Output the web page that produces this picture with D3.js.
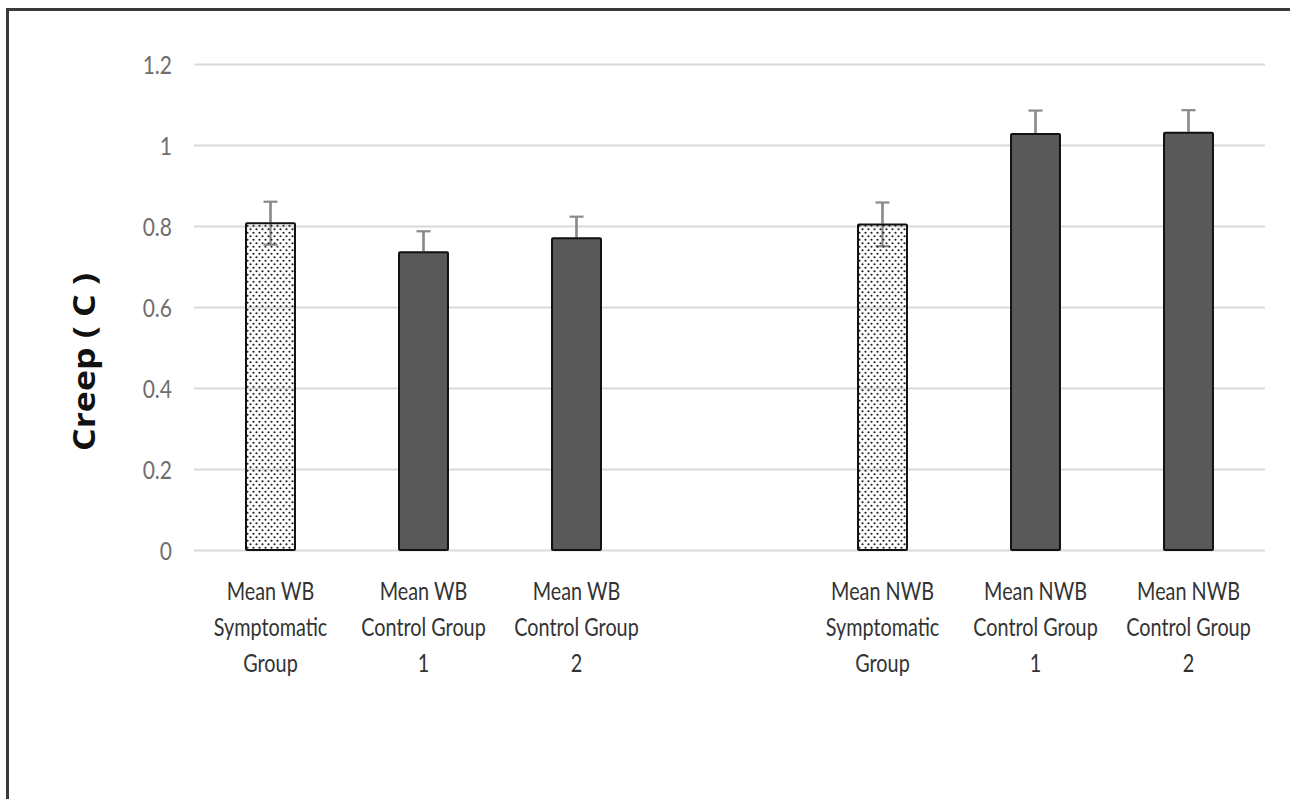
<!DOCTYPE html>
<html>
<head>
<meta charset="utf-8">
<script src="https://cdn.jsdelivr.net/npm/d3@7"></script>
<style>
  html, body { margin: 0; padding: 0; background: #ffffff; overflow: hidden; }
  svg { display: block; }
</style>
</head>
<body>
<svg id="chart" width="1290" height="799"></svg>
<script>
// Creep (C) per group, weight-bearing (WB) and non-weight-bearing (NWB)
const categories = [
  "Mean WB Symptomatic Group",
  "Mean WB Control Group 1",
  "Mean WB Control Group 2",
  "Mean NWB Symptomatic Group",
  "Mean NWB Control Group 1",
  "Mean NWB Control Group 2"
];
const labelLines = [
  ["Mean WB", "Symptomatic", "Group"],
  ["Mean WB", "Control Group", "1"],
  ["Mean WB", "Control Group", "2"],
  ["Mean NWB", "Symptomatic", "Group"],
  ["Mean NWB", "Control Group", "1"],
  ["Mean NWB", "Control Group", "2"]
];
const creepMeans  = [0.807, 0.735, 0.770, 0.804, 1.027, 1.030];
const creepErrors = [0.053, 0.052, 0.053, 0.054, 0.058, 0.056];
const symptomatic = [true, false, false, true, false, false];
const yTicks = [0, 0.2, 0.4, 0.6, 0.8, 1, 1.2];
// an empty slot separates the WB and NWB groups
const slots = [categories[0], categories[1], categories[2], "gap",
               categories[3], categories[4], categories[5]];

const svg = d3.select("#chart");
const W = 1290, H = 799;

const plot = { left: 194, right: 1265, top: 64, bottom: 550 };

const x = d3.scaleBand()
  .domain(slots)
  .range([plot.left, plot.right])
  .paddingInner(0.68)
  .paddingOuter(0.34);

const y = d3.scaleLinear()
  .domain([0, 1.2])
  .range([plot.bottom, plot.top]);

// outer frame: only the top and left edges fall inside the page
const frame = svg.append("g").attr("stroke", "#3a3a3a").attr("stroke-width", 3);
frame.append("line").attr("x1", 7.5).attr("x2", W).attr("y1", 9.5).attr("y2", 9.5);
frame.append("line").attr("x1", 7.5).attr("x2", 7.5).attr("y1", 8).attr("y2", H);

// dotted fill for symptomatic groups
const defs = svg.append("defs");
const pat = defs.append("pattern")
  .attr("id", "dots")
  .attr("patternUnits", "userSpaceOnUse")
  .attr("width", 6).attr("height", 7);
pat.append("circle").attr("cx", 1.5).attr("cy", 1.75).attr("r", 1.1).attr("fill", "#1e1e1e");
pat.append("circle").attr("cx", 4.5).attr("cy", 5.25).attr("r", 1.1).attr("fill", "#1e1e1e");

// gridlines and tick labels via the y axis
const yAxis = d3.axisLeft(y)
  .tickValues(yTicks)
  .tickFormat(d3.format("~g"))
  .tickSize(-(plot.right - plot.left))
  .tickPadding(22);

const gy = svg.append("g")
  .attr("transform", `translate(${plot.left},0)`)
  .call(yAxis);
gy.select(".domain").remove();
gy.selectAll(".tick line")
  .attr("stroke", "#d9d9d9")
  .attr("stroke-width", 2);
gy.selectAll(".tick text")
  .attr("fill", "#6e6e6e")
  .attr("font-family", "Lato, 'Open Sans', sans-serif")
  .attr("font-size", 21)
  .attr("dy", "0.36em")
  .attr("transform", "scale(1,1.2)");

const data = categories.map((c, i) => ({
  cat: c, mean: creepMeans[i], err: creepErrors[i],
  sym: symptomatic[i], lines: labelLines[i]
}));

// error bars (drawn beneath the bars)
const capW = 14;
const eb = svg.append("g").attr("class", "errorbars")
  .attr("stroke", "#8a8a8a").attr("stroke-width", 2.2).attr("fill", "none");
data.forEach(d => {
  const cx = x(d.cat) + x.bandwidth() / 2;
  eb.append("line")
    .attr("x1", cx).attr("x2", cx)
    .attr("y1", y(d.mean - d.err)).attr("y2", y(d.mean + d.err));
  eb.append("line")
    .attr("x1", cx - capW / 2).attr("x2", cx + capW / 2)
    .attr("y1", y(d.mean - d.err)).attr("y2", y(d.mean - d.err));
});

// bars
svg.append("g").attr("class", "bars")
  .selectAll("rect")
  .data(data)
  .join("rect")
  .attr("x", d => x(d.cat))
  .attr("y", d => y(d.mean))
  .attr("width", x.bandwidth())
  .attr("height", d => y(0) - y(d.mean))
  .attr("fill", d => d.sym ? "url(#dots)" : "#595959")
  .attr("stroke", "#111111")
  .attr("stroke-width", 2)
  .attr("rx", 1);

// upper whiskers and caps above the bars
const ebTop = svg.append("g")
  .attr("stroke", "#8a8a8a").attr("stroke-width", 2.2).attr("fill", "none");
data.forEach(d => {
  const cx = x(d.cat) + x.bandwidth() / 2;
  ebTop.append("line")
    .attr("x1", cx).attr("x2", cx)
    .attr("y1", y(d.mean) - 1).attr("y2", y(d.mean + d.err));
  ebTop.append("line")
    .attr("x1", cx - capW / 2).attr("x2", cx + capW / 2)
    .attr("y1", y(d.mean + d.err)).attr("y2", y(d.mean + d.err));
});

// category labels
const lab = svg.append("g").attr("class", "cat-labels")
  .attr("font-family", "Lato, 'Open Sans', sans-serif")
  .attr("font-size", 22)
  .attr("fill", "#333333")
  .attr("text-anchor", "middle");
data.forEach(d => {
  const cx = x(d.cat) + x.bandwidth() / 2;
  d.lines.forEach((t, j) => {
    lab.append("text")
      .attr("transform", `translate(${cx},${y(0) + 50 + j * 36}) scale(0.9,1.12)`)
      .text(t);
  });
});

// y-axis title
svg.append("text")
  .attr("transform", `translate(95,${(plot.top + plot.bottom) / 2 + 55}) rotate(-90)`)
  .attr("text-anchor", "middle")
  .attr("font-family", "'Open Sans', Lato, sans-serif")
  .attr("font-weight", "bold")
  .attr("font-size", 30)
  .attr("textLength", 178)
  .attr("lengthAdjust", "spacingAndGlyphs")
  .attr("fill", "#111111")
  .text("Creep ( C )");
</script>
</body>
</html>
